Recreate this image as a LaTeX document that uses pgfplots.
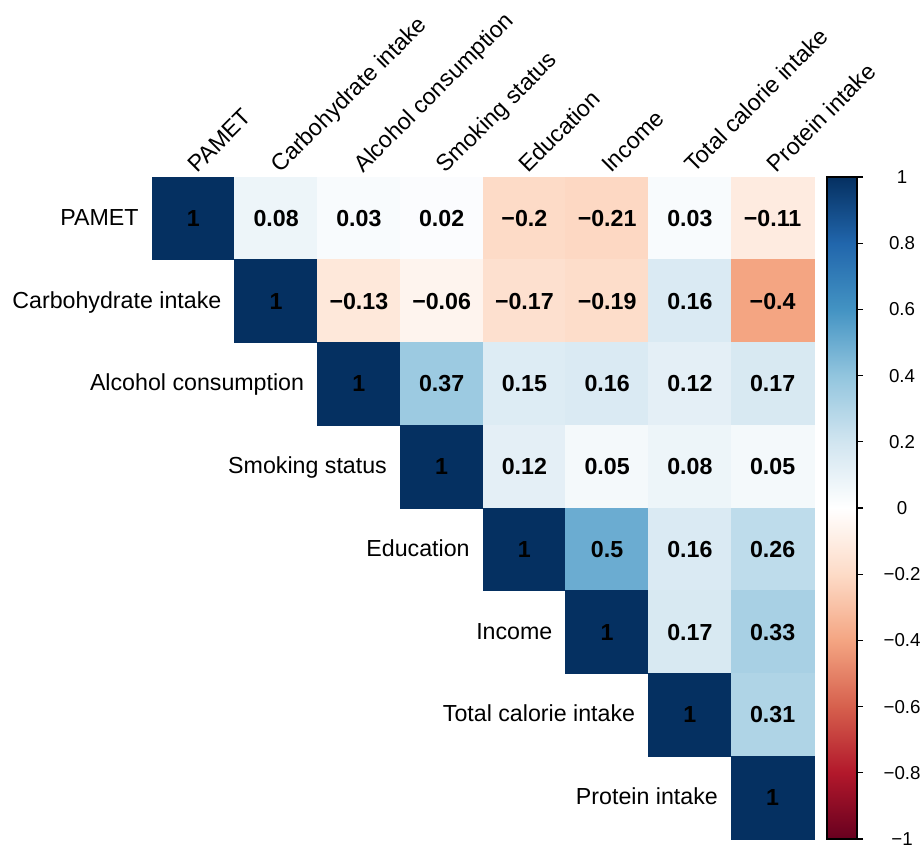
\documentclass[border=0pt]{standalone}
\usepackage{pgfplots}
\pgfplotsset{compat=1.18}
\usepackage{pgfplotstable}
\usepackage{fontspec}
\setmainfont{Liberation Sans}

% Upper triangle of the correlation matrix: column x, row y, coefficient v, printed label
\pgfplotstableread{
x y v lab
0 0 1 1
1 0 0.08 0.08
2 0 0.03 0.03
3 0 0.02 0.02
4 0 -0.2 −0.2
5 0 -0.21 −0.21
6 0 0.03 0.03
7 0 -0.11 −0.11
1 1 1 1
2 1 -0.13 −0.13
3 1 -0.06 −0.06
4 1 -0.17 −0.17
5 1 -0.19 −0.19
6 1 0.16 0.16
7 1 -0.4 −0.4
2 2 1 1
3 2 0.37 0.37
4 2 0.15 0.15
5 2 0.16 0.16
6 2 0.12 0.12
7 2 0.17 0.17
3 3 1 1
4 3 0.12 0.12
5 3 0.05 0.05
6 3 0.08 0.08
7 3 0.05 0.05
4 4 1 1
5 4 0.5 0.5
6 4 0.16 0.16
7 4 0.26 0.26
5 5 1 1
6 5 0.17 0.17
7 5 0.33 0.33
6 6 1 1
7 6 0.31 0.31
7 7 1 1
}\corrdata

\newcommand{\labfont}{\fontsize{11.6}{14}\selectfont}

\begin{document}
\begin{tikzpicture}
\path[use as bounding box] (-76pt,-4.5pt) rectangle (384pt,419.5pt);
\begin{axis}[
  scale only axis, width=331pt, height=331pt,
  hide axis, clip=false,
  xmin=-0.5, xmax=7.5, ymin=-0.5, ymax=7.5,
  y dir=reverse,
  colormap={rdbu}{rgb255=(103,0,31) rgb255=(178,24,43) rgb255=(214,96,77)
    rgb255=(244,165,130) rgb255=(253,219,199) rgb255=(255,255,255)
    rgb255=(209,229,240) rgb255=(146,197,222) rgb255=(67,147,195)
    rgb255=(33,102,172) rgb255=(5,48,97)},
  point meta min=-1, point meta max=1,
  colorbar,
  colorbar style={
    at={(parent axis.north east)}, anchor=north west, xshift=-2pt,
    scale only axis, width=15pt, height=331pt,
    ytick={-1,-0.8,-0.6,-0.4,-0.2,0,0.2,0.4,0.6,0.8,1},
    yticklabels={−1,−0.8,−0.6,−0.4,−0.2,0,0.2,0.4,0.6,0.8,1},
    ytick pos=right, yticklabel pos=right, tick align=outside,
    major tick length=3pt,
    tick style={black, line width=0.6pt},
    axis line style={black, line width=0.6pt},
    yticklabel style={font=\fontsize{9.35}{11}\selectfont, anchor=center, xshift=19.5pt},
  },
]
% coloured cells
\addplot[scatter, only marks, mark=square*, mark size=20.6875pt,
  point meta=explicit,
  scatter/use mapped color={draw=mapped color, fill=mapped color, line width=0.4pt},
] table[x=x, y=y, meta=v] {\corrdata};

% coefficients printed in the cells
\addplot[only marks, mark=none,
  point meta=explicit symbolic,
  nodes near coords,
  nodes near coords align=center,
  every node near coord/.append style={text=black, font=\labfont\bfseries},
] table[x=x, y=y, meta=lab] {\corrdata};

% row names, right-aligned left of the diagonal
\tikzset{rowlab/.style={anchor=base east, inner sep=0pt, xshift=-6.5pt, yshift=-3.5pt, font=\labfont},
         collab/.style={inner sep=0pt, xshift=2pt, yshift=1.5pt, rotate=45, anchor=base west, font=\labfont}}
\node[rowlab] at (axis cs:-0.5,0) {PAMET};
\node[rowlab] at (axis cs:0.5,1) {Carbohydrate intake};
\node[rowlab] at (axis cs:1.5,2) {Alcohol consumption};
\node[rowlab] at (axis cs:2.5,3) {Smoking status};
\node[rowlab] at (axis cs:3.5,4) {Education};
\node[rowlab] at (axis cs:4.5,5) {Income};
\node[rowlab] at (axis cs:5.5,6) {Total calorie intake};
\node[rowlab] at (axis cs:6.5,7) {Protein intake};

% column names, rotated above the top row
\node[collab] at (axis cs:0,-0.5) {PAMET};
\node[collab] at (axis cs:1,-0.5) {Carbohydrate intake};
\node[collab] at (axis cs:2,-0.5) {Alcohol consumption};
\node[collab] at (axis cs:3,-0.5) {Smoking status};
\node[collab] at (axis cs:4,-0.5) {Education};
\node[collab] at (axis cs:5,-0.5) {Income};
\node[collab] at (axis cs:6,-0.5) {Total calorie intake};
\node[collab] at (axis cs:7,-0.5) {Protein intake};
\end{axis}
\end{tikzpicture}
\end{document}
